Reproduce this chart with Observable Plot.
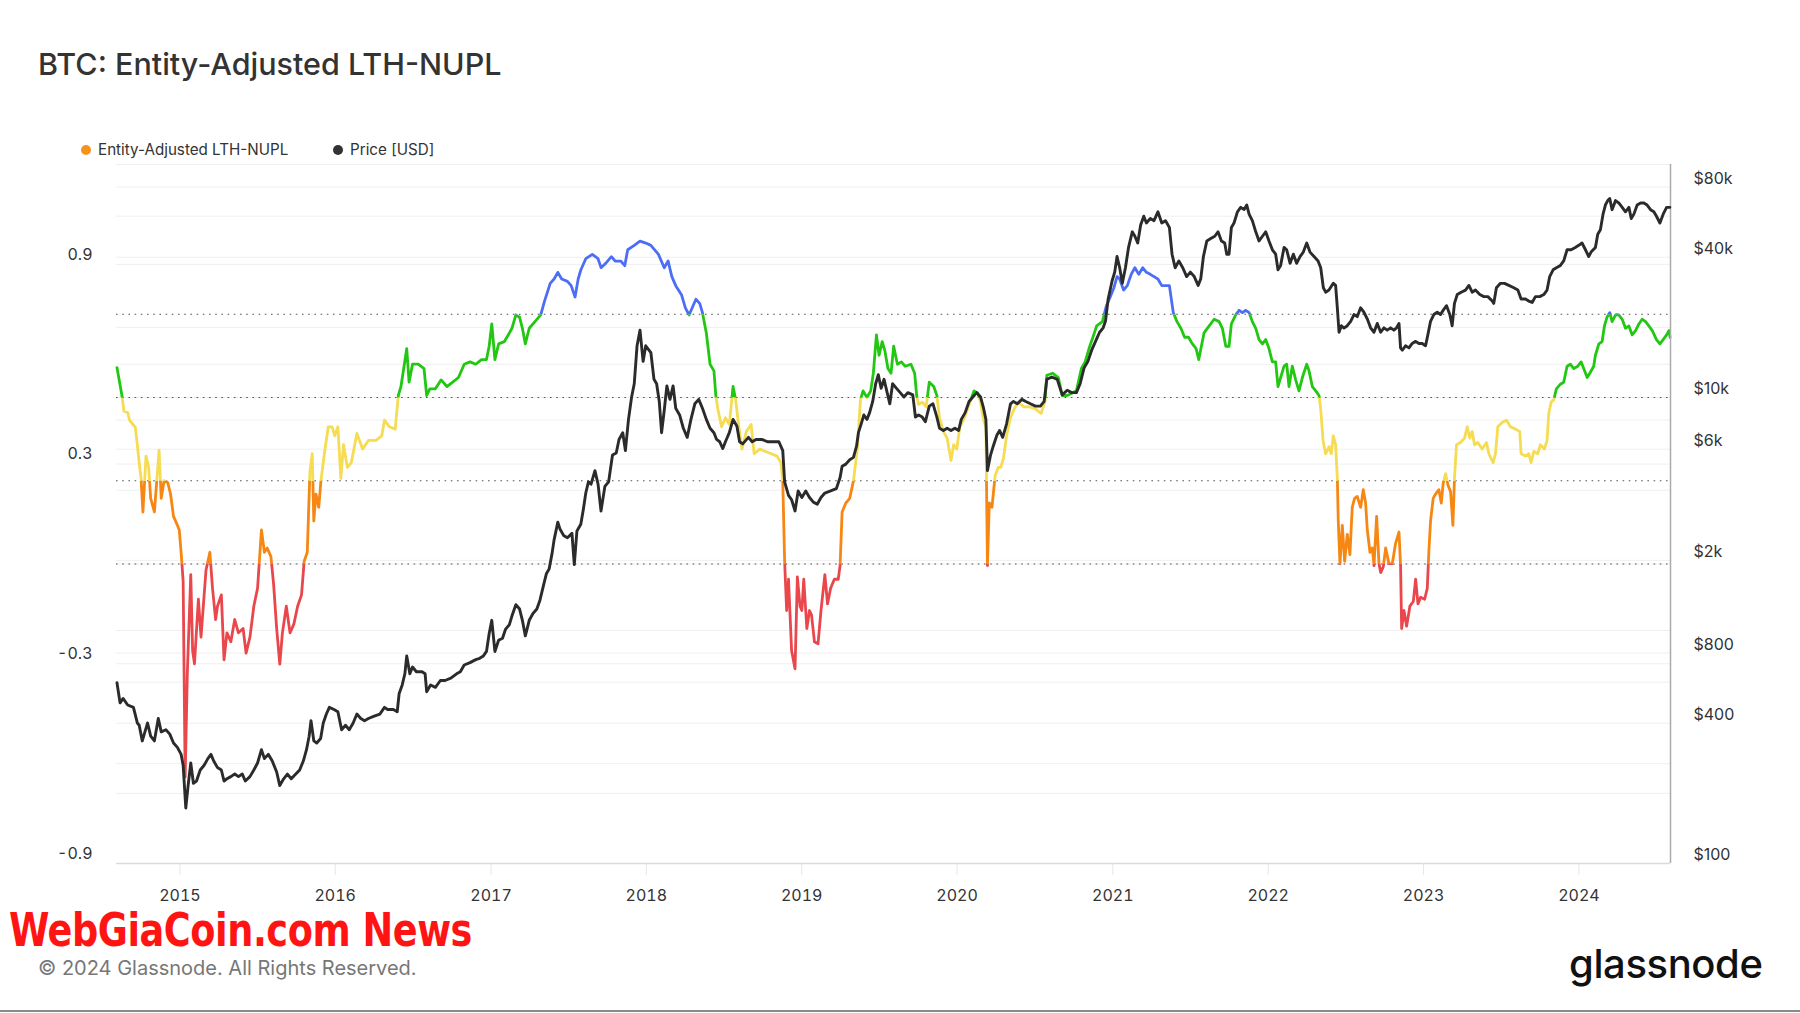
<!DOCTYPE html>
<html><head><meta charset="utf-8">
<script src="https://cdn.jsdelivr.net/npm/d3@7"></script>
<script src="https://cdn.jsdelivr.net/npm/@observablehq/plot@0.6"></script>
<style>
html,body{margin:0;padding:0;background:#fff;}
#page{position:relative;width:1800px;height:1013px;overflow:hidden;background:#fff;font-family:Inter,"Noto Sans",sans-serif;color:#333;}
.abs{position:absolute;white-space:nowrap;}
#title{left:38px;top:49px;font-size:30.5px;line-height:30.5px;font-weight:500;color:#333;}
.legend-item{position:absolute;top:142px;height:16px;display:flex;align-items:center;font-size:15.2px;line-height:16px;color:#333;white-space:nowrap;}
.dot{width:10px;height:10px;border-radius:50%;margin-right:7px;flex:none;}
.layer{position:absolute;left:0;top:160px;}
#watermark{left:9px;top:913px;font-family:"Liberation Sans Narrow","DejaVu Sans Condensed","Liberation Sans",sans-serif;font-weight:bold;font-size:47px;line-height:34px;color:#ff1414;transform-origin:0 0;letter-spacing:-0.5px;}
#copyright{left:38px;top:958px;font-size:20px;line-height:20px;color:#777;}
#logo{left:1569px;top:944px;font-size:40px;line-height:40px;font-weight:500;color:#111;letter-spacing:-0.4px;}
#bottomline{left:0;top:1010px;width:1800px;height:2px;background:#8a8a8a;}
</style>
</head>
<body>
<div id="page">
  <div id="title" class="abs">BTC: Entity-Adjusted LTH-NUPL</div>
  <div class="legend-item" style="left:81px"><span class="dot" style="background:#f7931a"></span><span>Entity-Adjusted LTH-NUPL</span></div>
  <div class="legend-item" style="left:333px"><span class="dot" style="background:#333"></span><span>Price [USD]</span></div>
  <div id="chart"></div>
  <div id="watermark" class="abs">WebGiaCoin.com News</div>
  <div id="copyright" class="abs">© 2024 Glassnode. All Rights Reserved.</div>
  <div id="logo" class="abs">glassnode</div>
  <div id="bottomline" class="abs"></div>
</div>
<script>
// ---------------- DATA ----------------
// Entity-Adjusted LTH-NUPL: [decimal year, value]
const nuplSeries = [
[2014.595,0.590],[2014.627,0.506],[2014.640,0.459],[2014.664,0.455],[2014.676,0.432],[2014.713,0.410],[2014.726,0.358],[2014.738,0.304],[2014.750,0.257],[2014.762,0.156],
[2014.782,0.324],[2014.799,0.290],[2014.812,0.197],[2014.836,0.156],[2014.866,0.342],[2014.880,0.197],[2014.898,0.250],[2014.922,0.244],[2014.940,0.210],[2014.959,0.143],
[2014.984,0.116],[2014.996,0.102],[2015.008,0.035],[2015.021,-0.052],[2015.034,-0.640],[2015.048,-0.328],[2015.070,-0.032],[2015.082,-0.261],[2015.094,-0.300],[2015.119,-0.106],
[2015.136,-0.220],[2015.168,-0.019],[2015.193,0.035],[2015.210,-0.073],[2015.230,-0.167],[2015.242,-0.127],[2015.267,-0.093],[2015.284,-0.288],[2015.303,-0.207],[2015.328,-0.234],
[2015.353,-0.167],[2015.377,-0.207],[2015.407,-0.194],[2015.426,-0.268],[2015.451,-0.220],[2015.476,-0.127],[2015.500,-0.073],[2015.525,0.102],[2015.544,0.035],[2015.562,0.048],
[2015.586,0.022],[2015.603,-0.059],[2015.623,-0.194],[2015.643,-0.301],[2015.660,-0.207],[2015.685,-0.127],[2015.709,-0.207],[2015.734,-0.180],[2015.758,-0.127],[2015.783,-0.093],
[2015.800,0.008],[2015.820,0.035],[2015.837,0.277],[2015.852,0.331],[2015.862,0.129],[2015.876,0.210],[2015.894,0.170],[2015.908,0.250],[2015.930,0.331],[2015.955,0.412],
[2015.980,0.412],[2015.997,0.385],[2016.017,0.412],[2016.036,0.257],[2016.053,0.358],[2016.078,0.290],[2016.103,0.304],[2016.139,0.392],[2016.176,0.345],[2016.213,0.371],
[2016.262,0.371],[2016.299,0.385],[2016.316,0.432],[2016.348,0.412],[2016.385,0.405],[2016.405,0.506],[2016.422,0.533],[2016.459,0.647],[2016.474,0.546],[2016.496,0.600],
[2016.533,0.600],[2016.570,0.587],[2016.587,0.506],[2016.607,0.526],[2016.643,0.526],[2016.680,0.553],[2016.717,0.533],[2016.754,0.546],[2016.791,0.560],[2016.828,0.600],
[2016.865,0.607],[2016.902,0.600],[2016.939,0.614],[2016.971,0.614],[2016.988,0.654],[2017.005,0.721],[2017.025,0.614],[2017.049,0.661],[2017.086,0.668],[2017.111,0.688],
[2017.135,0.708],[2017.160,0.748],[2017.184,0.741],[2017.202,0.708],[2017.221,0.661],[2017.246,0.708],[2017.283,0.728],[2017.320,0.748],[2017.344,0.789],[2017.381,0.843],
[2017.406,0.856],[2017.430,0.876],[2017.455,0.856],[2017.492,0.849],[2017.516,0.836],[2017.541,0.802],[2017.561,0.856],[2017.578,0.883],[2017.610,0.917],[2017.652,0.930],
[2017.689,0.917],[2017.708,0.890],[2017.738,0.903],[2017.775,0.923],[2017.799,0.910],[2017.836,0.910],[2017.861,0.896],[2017.880,0.944],[2017.922,0.957],[2017.959,0.970],
[2017.996,0.964],[2018.029,0.957],[2018.078,0.930],[2018.115,0.890],[2018.140,0.910],[2018.164,0.863],[2018.189,0.836],[2018.226,0.809],[2018.251,0.769],[2018.275,0.748],
[2018.300,0.775],[2018.319,0.795],[2018.344,0.782],[2018.361,0.755],[2018.386,0.694],[2018.410,0.600],[2018.435,0.580],[2018.447,0.506],[2018.460,0.466],[2018.484,0.412],
[2018.509,0.439],[2018.534,0.419],[2018.558,0.533],[2018.575,0.493],[2018.595,0.412],[2018.615,0.345],[2018.644,0.398],[2018.674,0.419],[2018.694,0.331],[2018.730,0.345],
[2018.767,0.338],[2018.804,0.331],[2018.841,0.324],[2018.866,0.304],[2018.878,0.250],[2018.890,0.008],[2018.903,-0.140],[2018.915,-0.046],[2018.935,-0.261],[2018.957,-0.315],
[2018.972,-0.039],[2018.989,-0.127],[2019.001,-0.140],[2019.013,-0.046],[2019.033,-0.194],[2019.050,-0.140],[2019.063,-0.153],[2019.082,-0.234],[2019.105,-0.240],[2019.124,-0.140],
[2019.149,-0.032],[2019.166,-0.120],[2019.186,-0.073],[2019.210,-0.046],[2019.235,-0.046],[2019.247,-0.005],[2019.260,0.156],[2019.284,0.183],[2019.309,0.197],[2019.333,0.250],
[2019.358,0.345],[2019.378,0.493],[2019.395,0.520],[2019.420,0.500],[2019.444,0.520],[2019.461,0.573],[2019.481,0.688],[2019.498,0.627],[2019.518,0.668],[2019.535,0.641],
[2019.555,0.587],[2019.575,0.573],[2019.592,0.654],[2019.616,0.600],[2019.641,0.607],[2019.666,0.594],[2019.703,0.600],[2019.727,0.573],[2019.740,0.506],[2019.752,0.479],
[2019.776,0.486],[2019.801,0.472],[2019.821,0.546],[2019.850,0.533],[2019.870,0.506],[2019.887,0.439],[2019.912,0.398],[2019.936,0.378],[2019.961,0.311],[2019.978,0.358],
[2019.998,0.345],[2020.018,0.412],[2020.047,0.439],[2020.077,0.479],[2020.109,0.520],[2020.133,0.513],[2020.151,0.486],[2020.170,0.432],[2020.185,0.412],[2020.195,-0.005],
[2020.207,0.183],[2020.224,0.170],[2020.244,0.264],[2020.264,0.290],[2020.281,0.290],[2020.298,0.318],[2020.318,0.385],[2020.343,0.439],[2020.367,0.466],[2020.392,0.486],
[2020.429,0.472],[2020.466,0.472],[2020.503,0.466],[2020.539,0.452],[2020.564,0.486],[2020.576,0.567],[2020.613,0.573],[2020.650,0.560],[2020.675,0.506],[2020.707,0.506],
[2020.736,0.513],[2020.766,0.520],[2020.798,0.587],[2020.822,0.607],[2020.847,0.647],[2020.872,0.681],[2020.896,0.715],[2020.933,0.728],[2020.958,0.775],[2020.983,0.802],
[2021.007,0.830],[2021.027,0.863],[2021.044,0.856],[2021.069,0.823],[2021.093,0.836],[2021.118,0.870],[2021.142,0.890],[2021.167,0.870],[2021.192,0.890],[2021.216,0.876],
[2021.241,0.870],[2021.265,0.863],[2021.290,0.856],[2021.315,0.836],[2021.339,0.836],[2021.364,0.836],[2021.389,0.755],[2021.413,0.728],[2021.438,0.708],[2021.462,0.681],
[2021.487,0.681],[2021.512,0.661],[2021.536,0.647],[2021.553,0.614],[2021.587,0.694],[2021.620,0.715],[2021.652,0.735],[2021.684,0.728],[2021.705,0.708],[2021.727,0.654],
[2021.748,0.654],[2021.763,0.721],[2021.791,0.748],[2021.813,0.762],[2021.834,0.755],[2021.855,0.762],[2021.877,0.755],[2021.898,0.728],[2021.920,0.708],[2021.941,0.674],
[2021.963,0.661],[2021.984,0.674],[2022.005,0.647],[2022.027,0.607],[2022.048,0.607],[2022.063,0.533],[2022.080,0.560],[2022.102,0.594],[2022.119,0.600],[2022.134,0.533],
[2022.155,0.594],[2022.177,0.553],[2022.198,0.520],[2022.220,0.560],[2022.248,0.600],[2022.263,0.580],[2022.284,0.533],[2022.306,0.520],[2022.327,0.506],[2022.338,0.466],
[2022.353,0.371],[2022.370,0.331],[2022.391,0.352],[2022.406,0.331],[2022.419,0.385],[2022.434,0.358],[2022.445,0.257],[2022.451,0.129],[2022.462,0.001],[2022.477,0.116],
[2022.492,0.008],[2022.509,0.089],[2022.526,0.028],[2022.541,0.170],[2022.556,0.197],[2022.573,0.203],[2022.595,0.170],[2022.612,0.223],[2022.627,0.183],[2022.638,0.102],
[2022.655,0.035],[2022.670,0.048],[2022.681,-0.005],[2022.698,0.143],[2022.713,0.001],[2022.724,-0.026],[2022.741,-0.008],[2022.756,0.048],[2022.777,0.001],[2022.799,0.001],
[2022.820,0.062],[2022.842,0.096],[2022.852,-0.005],[2022.859,-0.194],[2022.874,-0.140],[2022.891,-0.187],[2022.912,-0.127],[2022.934,-0.113],[2022.949,-0.046],[2022.964,-0.120],
[2022.981,-0.100],[2023.007,-0.106],[2023.024,-0.073],[2023.034,0.035],[2023.045,0.129],[2023.062,0.197],[2023.077,0.210],[2023.099,0.223],[2023.114,0.183],[2023.127,0.244],
[2023.142,0.271],[2023.157,0.237],[2023.174,0.217],[2023.189,0.116],[2023.199,0.257],[2023.212,0.358],[2023.238,0.365],[2023.264,0.378],[2023.281,0.412],[2023.298,0.378],
[2023.313,0.398],[2023.328,0.358],[2023.349,0.365],[2023.377,0.345],[2023.405,0.365],[2023.420,0.331],[2023.448,0.304],[2023.463,0.331],[2023.478,0.412],[2023.506,0.425],
[2023.534,0.432],[2023.559,0.412],[2023.592,0.405],[2023.619,0.398],[2023.628,0.331],[2023.656,0.324],[2023.677,0.331],[2023.692,0.304],[2023.710,0.338],[2023.735,0.331],
[2023.752,0.358],[2023.778,0.345],[2023.795,0.371],[2023.806,0.452],[2023.821,0.486],[2023.838,0.493],[2023.855,0.526],[2023.881,0.540],[2023.902,0.546],[2023.924,0.594],
[2023.945,0.600],[2023.967,0.587],[2023.993,0.594],[2024.014,0.607],[2024.031,0.587],[2024.053,0.560],[2024.070,0.573],[2024.095,0.594],[2024.106,0.627],[2024.128,0.661],
[2024.149,0.668],[2024.164,0.715],[2024.181,0.742],[2024.198,0.755],[2024.213,0.728],[2024.235,0.748],[2024.256,0.748],[2024.278,0.735],[2024.299,0.708],[2024.321,0.715],
[2024.342,0.688],[2024.364,0.701],[2024.385,0.721],[2024.406,0.735],[2024.428,0.728],[2024.449,0.715],[2024.471,0.701],[2024.498,0.674],[2024.520,0.661],[2024.541,0.674],
[2024.563,0.688],[2024.578,0.701],[2024.585,0.681]
];

// BTC price in USD: [decimal year, price]
const priceSeries = [
[2014.595,597],[2014.615,489],[2014.634,511],[2014.664,479],[2014.701,468],[2014.726,401],[2014.738,392],[2014.758,336],[2014.775,367],[2014.792,401],
[2014.812,352],[2014.836,336],[2014.861,419],[2014.880,367],[2014.910,375],[2014.935,359],[2014.959,329],[2014.984,315],[2015.008,294],[2015.021,264],
[2015.038,173],[2015.053,216],[2015.070,270],[2015.087,221],[2015.107,226],[2015.131,252],[2015.156,264],[2015.180,282],[2015.200,294],[2015.217,276],
[2015.242,258],[2015.267,252],[2015.284,226],[2015.303,231],[2015.328,236],[2015.353,242],[2015.377,236],[2015.402,242],[2015.421,226],[2015.451,236],
[2015.476,252],[2015.500,270],[2015.525,308],[2015.544,282],[2015.569,294],[2015.594,276],[2015.623,247],[2015.643,216],[2015.668,231],[2015.692,242],
[2015.717,231],[2015.746,242],[2015.771,252],[2015.795,276],[2015.815,308],[2015.832,352],[2015.844,410],[2015.862,336],[2015.881,329],[2015.906,344],
[2015.923,401],[2015.943,438],[2015.962,468],[2015.992,458],[2016.017,448],[2016.041,375],[2016.066,392],[2016.090,375],[2016.115,401],[2016.139,438],
[2016.164,419],[2016.188,410],[2016.213,419],[2016.250,429],[2016.287,438],[2016.316,468],[2016.336,458],[2016.373,458],[2016.398,448],[2016.410,535],
[2016.430,584],[2016.447,652],[2016.459,778],[2016.479,652],[2016.496,697],[2016.521,665],[2016.557,665],[2016.577,652],[2016.587,546],[2016.612,584],
[2016.643,570],[2016.675,610],[2016.705,610],[2016.742,624],[2016.779,652],[2016.803,665],[2016.828,711],[2016.865,728],[2016.902,750],[2016.927,760],
[2016.951,778],[2016.971,813],[2016.988,968],[2017.005,1106],[2017.025,813],[2017.049,908],[2017.074,927],[2017.094,1014],[2017.118,1059],[2017.135,1156],
[2017.160,1291],[2017.184,1236],[2017.202,1106],[2017.221,948],[2017.246,1106],[2017.270,1183],[2017.295,1236],[2017.315,1349],[2017.339,1574],[2017.357,1758],
[2017.374,1837],[2017.393,2143],[2017.406,2449],[2017.430,2919],[2017.443,2735],[2017.467,2559],[2017.492,2500],[2017.521,2612],[2017.536,1919],[2017.553,2673],
[2017.578,2858],[2017.595,3334],[2017.610,3890],[2017.627,4345],[2017.644,4246],[2017.669,4853],[2017.689,4246],[2017.708,3258],[2017.733,4155],[2017.757,4345],
[2017.782,5662],[2017.806,5781],[2017.824,6607],[2017.848,7063],[2017.865,5916],[2017.885,8054],[2017.905,10046],[2017.922,11455],[2017.940,16672],[2017.959,19454],
[2017.979,14289],[2017.996,16672],[2018.029,15596],[2018.049,11967],[2018.066,11455],[2018.083,9616],[2018.098,7063],[2018.115,8798],[2018.132,11220],[2018.152,9817],
[2018.172,11220],[2018.189,8995],[2018.214,8414],[2018.238,7379],[2018.263,6745],[2018.287,8054],[2018.312,9397],[2018.337,9817],[2018.361,8995],[2018.386,8054],
[2018.410,7379],[2018.435,7063],[2018.452,6607],[2018.472,6457],[2018.492,6039],[2018.509,6457],[2018.534,7063],[2018.558,8054],[2018.583,7534],[2018.600,6457],
[2018.620,6324],[2018.657,6745],[2018.681,6457],[2018.706,6607],[2018.743,6607],[2018.780,6457],[2018.817,6457],[2018.853,6457],[2018.878,5916],[2018.890,4345],
[2018.915,3802],[2018.935,3639],[2018.957,3258],[2018.977,3972],[2019.001,3724],[2019.026,3972],[2019.050,3724],[2019.075,3556],[2019.100,3483],[2019.124,3724],
[2019.149,3890],[2019.186,3972],[2019.223,4064],[2019.247,4539],[2019.260,5070],[2019.284,5176],[2019.309,5408],[2019.333,5534],[2019.353,6180],[2019.365,7063],
[2019.383,7709],[2019.400,8414],[2019.420,8054],[2019.437,8610],[2019.457,9616],[2019.476,11455],[2019.493,12531],[2019.511,10965],[2019.530,11967],[2019.550,10495],
[2019.567,9397],[2019.585,11455],[2019.609,10965],[2019.634,10495],[2019.658,10046],[2019.683,10495],[2019.715,10257],[2019.732,8241],[2019.752,8414],[2019.776,8241],
[2019.796,7870],[2019.821,9183],[2019.845,9397],[2019.870,8241],[2019.887,7379],[2019.912,7211],[2019.936,7379],[2019.961,7211],[2019.986,7379],[2020.010,7211],
[2020.027,8054],[2020.052,8610],[2020.077,9616],[2020.101,10046],[2020.126,10495],[2020.151,10046],[2020.170,8995],[2020.185,8054],[2020.195,4853],[2020.215,5662],
[2020.232,6180],[2020.256,6902],[2020.273,7211],[2020.293,6745],[2020.318,7709],[2020.343,9397],[2020.362,9616],[2020.387,9397],[2020.416,9817],[2020.441,9616],
[2020.471,9397],[2020.503,9183],[2020.535,9183],[2020.559,9616],[2020.576,11967],[2020.608,12246],[2020.643,11967],[2020.675,10257],[2020.707,10740],[2020.736,10495],
[2020.766,10495],[2020.790,11455],[2020.815,13366],[2020.840,14289],[2020.864,15959],[2020.889,17418],[2020.914,19011],[2020.938,19907],[2020.953,21281],[2020.970,26485],
[2020.995,31623],[2021.012,34514],[2021.027,40272],[2021.044,36058],[2021.061,30903],[2021.081,36058],[2021.101,44055],[2021.125,51404],[2021.142,49204],[2021.160,46026],
[2021.179,54954],[2021.199,59979],[2021.216,56105],[2021.241,58614],[2021.265,57412],[2021.290,62661],[2021.315,56105],[2021.339,57412],[2021.364,53703],[2021.381,41210],
[2021.401,36058],[2021.425,38548],[2021.450,36058],[2021.475,33037],[2021.499,34514],[2021.524,33037],[2021.549,30269],[2021.566,32359],[2021.583,40272],[2021.605,46989],
[2021.630,48084],[2021.656,49204],[2021.677,51404],[2021.699,46989],[2021.720,46026],[2021.733,41210],[2021.748,41210],[2021.763,53703],[2021.780,56105],[2021.802,62661],
[2021.823,65464],[2021.845,64121],[2021.862,66988],[2021.877,61235],[2021.898,57412],[2021.920,51404],[2021.941,46989],[2021.963,49204],[2021.984,51404],[2022.005,46989],
[2022.027,43053],[2022.048,41210],[2022.063,35318],[2022.080,36898],[2022.102,44055],[2022.119,43053],[2022.141,37670],[2022.162,41210],[2022.183,37670],[2022.205,40272],
[2022.226,42073],[2022.248,46026],[2022.269,42073],[2022.295,40272],[2022.321,38548],[2022.338,36058],[2022.355,29580],[2022.370,28314],[2022.391,28907],[2022.419,30903],
[2022.434,30269],[2022.445,24266],[2022.456,19055],[2022.471,20324],[2022.488,19861],[2022.509,20324],[2022.531,21232],[2022.552,22699],[2022.573,22233],[2022.595,24266],
[2022.616,23227],[2022.638,21727],[2022.659,19907],[2022.681,19055],[2022.702,20797],[2022.724,19055],[2022.745,19907],[2022.766,19455],[2022.788,19907],[2022.809,19455],
[2022.826,19907],[2022.842,20797],[2022.852,16331],[2022.863,15959],[2022.884,16672],[2022.906,16331],[2022.927,17061],[2022.949,17418],[2022.970,17061],[2022.991,17061],
[2023.013,16672],[2023.028,18621],[2023.045,21232],[2023.066,22699],[2023.088,23227],[2023.109,22699],[2023.127,23714],[2023.148,24774],[2023.169,22699],[2023.184,20324],
[2023.199,25351],[2023.217,27669],[2023.242,28314],[2023.270,28907],[2023.292,30269],[2023.313,28314],[2023.334,28907],[2023.362,27669],[2023.388,27102],[2023.414,27102],
[2023.442,25942],[2023.452,25351],[2023.469,29580],[2023.495,30903],[2023.521,30903],[2023.549,30269],[2023.581,29580],[2023.607,28907],[2023.628,26485],[2023.656,26485],
[2023.677,25942],[2023.699,25586],[2023.720,27102],[2023.748,27102],[2023.774,27669],[2023.795,28907],[2023.812,33037],[2023.834,35318],[2023.855,36058],[2023.881,36898],
[2023.902,38548],[2023.924,43053],[2023.950,43053],[2023.977,44055],[2023.999,44978],[2024.020,46026],[2024.042,43053],[2024.063,40272],[2024.078,42073],[2024.106,44055],
[2024.121,50234],[2024.138,52481],[2024.155,61235],[2024.170,66988],[2024.185,69984],[2024.198,71450],[2024.213,63973],[2024.235,69984],[2024.256,68391],[2024.278,65464],
[2024.299,62661],[2024.321,65464],[2024.336,58614],[2024.353,61235],[2024.374,66988],[2024.396,68391],[2024.417,68391],[2024.438,66988],[2024.460,63973],[2024.481,62661],
[2024.498,59979],[2024.520,56105],[2024.541,61235],[2024.563,65464],[2024.584,65464]
];

// NUPL zone thresholds (dotted lines) and colours, from lowest zone to highest
const zoneBreaks = [0, 0.25, 0.5, 0.75];
const zoneColors = ["#e9474b", "#f68712", "#f5dc52", "#22c712", "#4c6ef5"];

// Left axis (NUPL)
const nuplDomain = [-0.9, 1.2];
const nuplGrid = [1.2, 0.9, 0.6, 0.3, 0, -0.3, -0.6, -0.9];
const nuplTicks = [0.9, 0.3, -0.3, -0.9];

// Right axis (price, log)
const priceDomain = [100, 100000];
const priceGrid = [100, 200, 400, 600, 800, 1000, 2000, 4000, 6000, 8000, 10000, 20000, 40000, 60000, 80000];
const priceTicks = [80000, 40000, 10000, 6000, 2000, 800, 400, 100];
const priceTickLabels = ["$80k", "$40k", "$10k", "$6k", "$2k", "$800", "$400", "$100"];

// X axis
const yearTicks = [2015, 2016, 2017, 2018, 2019, 2020, 2021, 2022, 2023, 2024];
const timeDomain = [2014.592, 2024.588];

// ---------------- BUILD ----------------
function yearToDate(y) {
  const yr = Math.floor(y);
  const a = Date.UTC(yr, 0, 1), b = Date.UTC(yr + 1, 0, 1);
  return new Date(a + (y - yr) * (b - a));
}
const nuplData = nuplSeries.map(([t, v]) => ({date: yearToDate(t), value: v}));
const priceData = priceSeries.map(([t, p]) => ({date: yearToDate(t), price: p}));
const yearDates = yearTicks.map(y => new Date(Date.UTC(y, 0, 1)));
const xDomain = timeDomain.map(yearToDate);
const priceTickData = priceTicks.map((p, i) => ({price: p, label: priceTickLabels[i]}));

const W = 1800, H = 760;
const common = {
  width: W, height: H,
  marginTop: 4, marginRight: 130, marginBottom: 57, marginLeft: 116,
  style: {background: "transparent", fontFamily: "Inter, 'Noto Sans', sans-serif", fontSize: "16px", color: "#333", overflow: "visible"}
};

// Layer 1: price grid + right axis labels
const gridPlot = Plot.plot({
  ...common,
  x: {type: "utc", domain: xDomain, axis: null, label: null},
  y: {type: "log", domain: priceDomain, axis: null, label: null},
  marks: [
    Plot.ruleY(priceGrid, {stroke: "#efefef", strokeWidth: 1}),
    Plot.text(priceTickData, {y: "price", text: "label", frameAnchor: "right", textAnchor: "start",
      dx: 23, dy: -8.5, fill: "#333", fontSize: 16})
  ]
});

// Layer 2: NUPL
const nuplPlot = Plot.plot({
  ...common,
  x: {type: "utc", domain: xDomain, label: null},
  y: {domain: nuplDomain, label: null},
  marks: [
    Plot.ruleY(nuplGrid, {stroke: "#efefef", strokeWidth: 1}),
    Plot.ruleY(zoneBreaks, {stroke: "#555", strokeWidth: 1.1, strokeDasharray: "1.6,4.6"}),
    ...zoneColors.map(c => Plot.line(nuplData, {x: "date", y: "value", stroke: c, strokeWidth: 2.8})),
    Plot.ruleY([nuplDomain[0]], {stroke: "#dadada", strokeWidth: 1.5}),
    Plot.ruleX([xDomain[1]], {stroke: "#ababab", strokeWidth: 1.5}),
    Plot.axisY(nuplTicks, {anchor: "left", tickSize: 0, tickPadding: 24, dy: -9.7, label: null,
      tickFormat: d => d.toFixed(1), fill: "#333"}),
    Plot.axisX(yearDates, {anchor: "bottom", tickSize: 12, tickPadding: 14, stroke: "#e6e6e6", label: null,
      tickFormat: d => String(d.getUTCFullYear()), fill: "#333"})
  ]
});

// Layer 3: price line
const pricePlot = Plot.plot({
  ...common,
  x: {type: "utc", domain: xDomain, axis: null, label: null},
  y: {type: "log", domain: priceDomain, axis: null, label: null},
  marks: [
    Plot.line(priceData, {x: "date", y: "price", stroke: "#2b2b2b", strokeWidth: 2.9})
  ]
});

const chart = document.getElementById("chart");
[gridPlot, nuplPlot, pricePlot].forEach(svg => { svg.classList.add("layer"); chart.appendChild(svg); });

// Colour the NUPL line by zone: clip each coloured copy to its band of the y scale
(function () {
  const ns = "http://www.w3.org/2000/svg";
  const yS = nuplPlot.scale("y");
  const defs = document.createElementNS(ns, "defs");
  nuplPlot.insertBefore(defs, nuplPlot.firstChild);
  const lineGroups = nuplPlot.querySelectorAll('g[aria-label="line"]');
  zoneColors.forEach((c, i) => {
    const top = i < zoneBreaks.length ? yS.apply(zoneBreaks[i]) : -200;
    const bottom = i > 0 ? yS.apply(zoneBreaks[i - 1]) : H + 200;
    const cp = document.createElementNS(ns, "clipPath");
    cp.setAttribute("id", "zone-clip-" + i);
    const r = document.createElementNS(ns, "rect");
    r.setAttribute("x", -50); r.setAttribute("width", W + 100);
    r.setAttribute("y", top); r.setAttribute("height", bottom - top);
    cp.appendChild(r); defs.appendChild(cp);
    const g = lineGroups[i];
    if (g) g.setAttribute("clip-path", "url(#zone-clip-" + i + ")");
  });
})();

// Fit the condensed watermark to its width in the reference
(function () {
  const wm = document.getElementById("watermark");
  const w = wm.getBoundingClientRect().width;
  if (w > 0) wm.style.transform = "scaleX(" + (463 / w) + ")";
})();
</script>
</body></html>
